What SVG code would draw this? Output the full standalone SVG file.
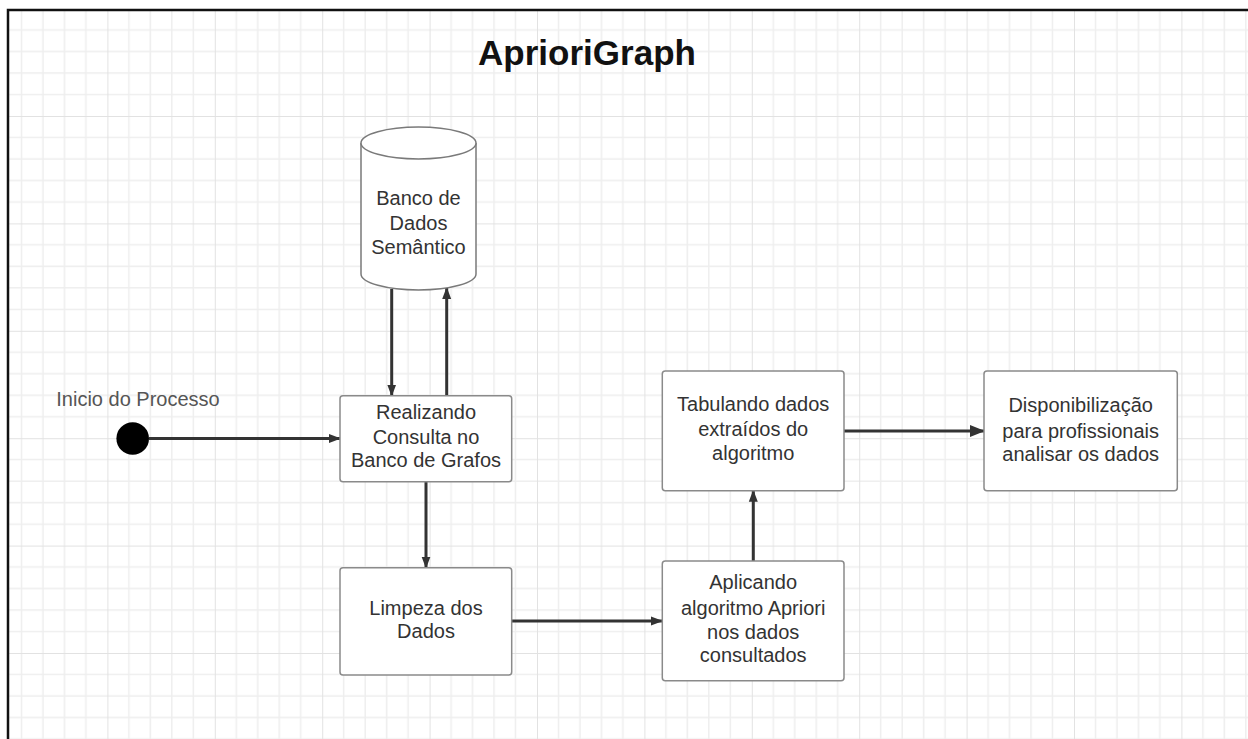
<svg xmlns="http://www.w3.org/2000/svg" width="1248" height="739" viewBox="0 0 1248 739">
  <defs>
    <pattern id="grid" patternUnits="userSpaceOnUse" x="0" y="8.6" width="107.4" height="107.4">
      <g stroke="#eeeeee" stroke-width="1.5">
        <line x1="21.48" y1="0" x2="21.48" y2="107.4"/>
        <line x1="42.96" y1="0" x2="42.96" y2="107.4"/>
        <line x1="64.44" y1="0" x2="64.44" y2="107.4"/>
        <line x1="85.92" y1="0" x2="85.92" y2="107.4"/>
        <line x1="0" y1="21.48" x2="107.4" y2="21.48"/>
        <line x1="0" y1="42.96" x2="107.4" y2="42.96"/>
        <line x1="0" y1="64.44" x2="107.4" y2="64.44"/>
        <line x1="0" y1="85.92" x2="107.4" y2="85.92"/>
      </g>
      <g stroke="#e2e2e2" stroke-width="2">
        <line x1="0" y1="0" x2="0" y2="107.4"/>
        <line x1="0" y1="0" x2="107.4" y2="0"/>
      </g>
    </pattern>
    <marker id="arr" markerWidth="12" markerHeight="10" refX="11" refY="5" orient="auto" markerUnits="userSpaceOnUse">
      <path d="M0,0.5 L12,5 L0,9.5 Z" fill="#333"/>
    </marker>
    <marker id="arrBig" markerWidth="15" markerHeight="13" refX="14" refY="6.5" orient="auto" markerUnits="userSpaceOnUse">
      <path d="M0,0.5 L15,6.5 L0,12.5 Z" fill="#333"/>
    </marker>
  </defs>
  <style>
    .box { fill: #ffffff; stroke: #8a8a8a; stroke-width: 1.5; }
    .lbl { font-family: "Liberation Sans", Arial, sans-serif; font-size: 20px; fill: #333333; text-anchor: middle; dominant-baseline: central; }
    .edge { stroke: #333333; stroke-width: 3; fill: none; }
  </style>
  <rect x="0" y="0" width="1248" height="739" fill="#ffffff"/>
  <rect x="8" y="10" width="1240" height="729" fill="url(#grid)"/>
  <path d="M8,739 L8,10 L1248,10" fill="none" stroke="#111" stroke-width="2.5"/>

  <text x="587" y="52" font-family="Liberation Sans, Arial, sans-serif" font-size="35" font-weight="bold" fill="#111" text-anchor="middle" dominant-baseline="central">AprioriGraph</text>

  <g id="connectors">
    <line class="edge" x1="149" y1="438.5" x2="340" y2="438.5" marker-end="url(#arr)"/>
    <line class="edge" x1="391.7" y1="289" x2="391.7" y2="395.5" marker-end="url(#arr)"/>
    <line class="edge" x1="446.7" y1="395.5" x2="446.7" y2="288" marker-end="url(#arr)"/>
    <line class="edge" x1="426" y1="481.7" x2="426" y2="567.5" marker-end="url(#arr)"/>
    <line class="edge" x1="511.7" y1="621" x2="662" y2="621" marker-end="url(#arr)"/>
    <line class="edge" x1="753.3" y1="561" x2="753.3" y2="490.7" marker-end="url(#arr)"/>
    <line class="edge" stroke-width="5" x1="844" y1="431" x2="984" y2="431" marker-end="url(#arrBig)"/>
  </g>

  <g id="start">
    <circle cx="132.7" cy="438.5" r="16.3" fill="#000"/>
    <text x="138" y="398.5" font-family="Liberation Sans, Arial, sans-serif" font-size="20" fill="#555" text-anchor="middle" dominant-baseline="central">Inicio do Processo</text>
  </g>

  <g id="banco-semantico">
    <path d="M361,143 L361,274 A57.5,16 0 0 0 476,274 L476,143" fill="#fff" stroke="#7a7a7a" stroke-width="1.5"/>
    <ellipse cx="418.5" cy="143" rx="57.5" ry="16" fill="#fff" stroke="#7a7a7a" stroke-width="1.5"/>
    <text class="lbl" x="418.5" y="198">Banco de</text>
    <text class="lbl" x="418.5" y="222.5">Dados</text>
    <text class="lbl" x="418.5" y="246.5">Semântico</text>
  </g>

  <g id="realizando">
    <rect class="box" x="340" y="395.7" width="171.7" height="86" rx="3"/>
    <text class="lbl" x="426" y="412">Realizando</text>
    <text class="lbl" x="426" y="436.5">Consulta no</text>
    <text class="lbl" x="426" y="460">Banco de Grafos</text>
  </g>

  <g id="limpeza">
    <rect class="box" x="340" y="567.7" width="171.7" height="107.3" rx="3"/>
    <text class="lbl" x="426" y="607.7">Limpeza dos</text>
    <text class="lbl" x="426" y="630.7">Dados</text>
  </g>

  <g id="aplicando">
    <rect class="box" x="662.3" y="561" width="181.7" height="119.7" rx="3"/>
    <text class="lbl" x="753.2" y="582.3">Aplicando</text>
    <text class="lbl" x="753.2" y="607.5">algoritmo Apriori</text>
    <text class="lbl" x="753.2" y="631.5">nos dados</text>
    <text class="lbl" x="753.2" y="655">consultados</text>
  </g>

  <g id="tabulando">
    <rect class="box" x="662.3" y="371" width="181.7" height="119.7" rx="3"/>
    <text class="lbl" x="753.2" y="404.3">Tabulando dados</text>
    <text class="lbl" x="753.2" y="429">extraídos do</text>
    <text class="lbl" x="753.2" y="452.7">algoritmo</text>
  </g>

  <g id="disponibilizacao">
    <rect class="box" x="984" y="371" width="193.3" height="119.7" rx="3"/>
    <text class="lbl" x="1080.7" y="405">Disponibilização</text>
    <text class="lbl" x="1080.7" y="430.5">para profissionais</text>
    <text class="lbl" x="1080.7" y="454.3">analisar os dados</text>
  </g>
</svg>
